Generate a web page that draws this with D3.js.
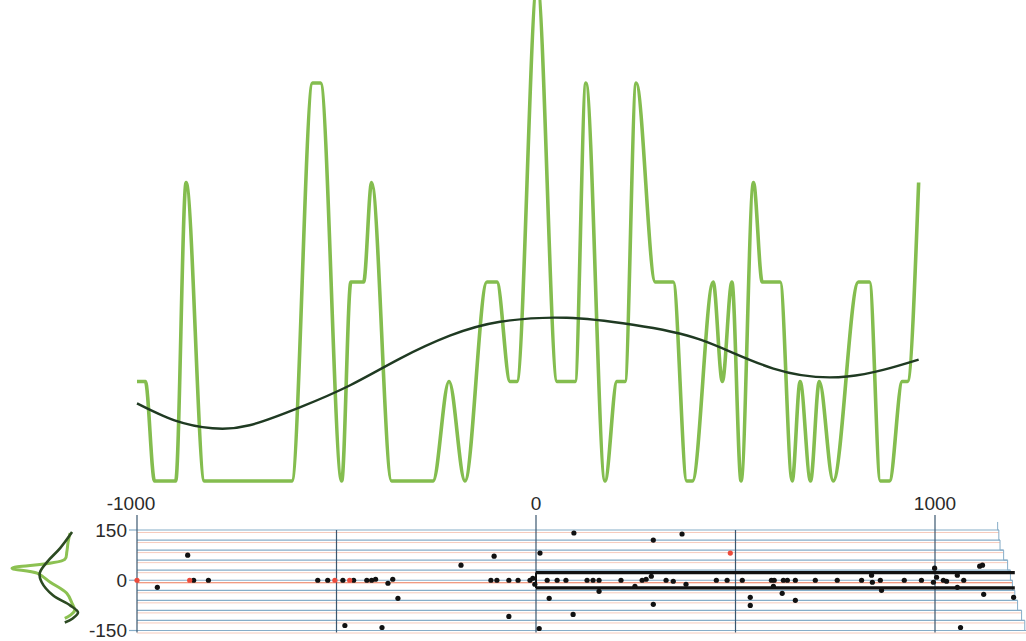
<!DOCTYPE html>
<html>
<head>
<meta charset="utf-8">
<script src="https://cdn.jsdelivr.net/npm/d3@7"></script>
<style>
  body { margin: 0; background: #fff; }
  svg { display: block; }
  text { font-family: "Liberation Sans", Arial, sans-serif; fill: #2a2a2a; }
</style>
</head>
<body>
<div id="chart"></div>
<script>
// ---- data ----
// top panel: green step/peak trace (x position, level)
const greenX = [-1000, -979, -956, -903, -877, -831, -612, -560, -540, -487, -464, -432, -412, -362,
  -258, -218, -178, -123, -98, -65, -48, 3, 53, 98, 125, 173, 203, 223, 251, 299, 344, 378, 392,
  444, 467, 491, 514, 545, 567, 612, 642, 662, 688, 710, 745, 808, 836, 863, 886, 918, 931, 959];
const greenY = [1, 1, 0, 0, 3, 0, 0, 4, 4, 0, 2, 2, 3, 0,
  0, 1, 0, 2, 2, 1, 1, 5, 1, 1, 4, 0, 1, 1, 4, 2, 2, 0, 0,
  2, 1, 2, 0, 3, 2, 2, 0, 1, 0, 1, 0, 2, 2, 0, 0, 1, 1, 3];

// top panel: smooth fitted curve
const fitX = [-1000, -906, -811, -718, -592, -467, -341, -216, -90, 77, 243, 412, 595, 780, 959];
const fitY = [0.78, 0.61, 0.53, 0.56, 0.74, 0.96, 1.23, 1.46, 1.60, 1.64, 1.57, 1.42, 1.13, 1.05, 1.22];

// bottom panel: black points
const dotX = [-949, -873, -858, -821, -547, -522, -484, -479, -457, -424, -412, -402, -371, -359, -346, -386,
  -188, -105, -113, -98, -68, -45, -15, -8, -3, -68, 10, 95, 33, 93, 8, 28, 53, 75, 128, 143, 158, 158,
  213, 248, 266, 276, 289, 294, 294, 326, 344, 366, 376, 452, 479, 517, 537, 537, 590, 597, 620, 630, 650,
  595, 617, 650, 700, 755, 816, 841, 843, 863, 866, 923, 966, 999, 996, 1004, 1021, 1029, 1056, 1056,
  1072, 1112, 1119, 1122, 1064, 1197];
const dotY = [-21, 75, 0, 0, 0, 0, 0, -135, 0, 0, 0, 3, -9, 3, -54, -141,
  45, 72, 0, 0, 0, 0, 0, 6, -12, -108, 81, 141, -54, -102, -144, 0, 0, 0, 0, 0, 0, -33,
  0, -18, 0, 3, 12, 120, -72, 0, -3, 138, -12, 0, 0, 0, -51, -75, 0, 0, 0, 0, 0,
  -18, -39, -60, 0, 0, 0, 15, -6, 0, -30, 0, 0, 36, -6, 9, 0, -3, 15, -21,
  0, 42, 45, -42, -141, -51];

// bottom panel: red points
const redX = [-1000, -868, -504, -467, 487];
const redY = [0, 0, 0, 0, 81];

// bottom panel: horizontal rules and where each one stops on the right
const gridY = [150, 120, 90, 60, 30, 0, -30, -60, -90, -120, -150];
const gridEnd = [1160, 1163, 1172, 1182, 1189, 1194, 1200, 1207, 1217, 1225, 1231];
const edgeTop = [1157, 174];

// vertical rules and tick labels
const vLines = [-1000, -500, 0, 500, 1000];
const xTicks = [-1000, 0, 1000];
const yTicks = [150, 0, -150];

// thick band
const bandY = [23, -23];
const bandEnd = 1200;

// side density curves (value, density)
const lightY = [141, 114, 84, 62, 36, 21, -6, -39, -69, -90, -105, -114];
const lightD = [0.12, 0.15, 0.17, 0.2, 1.0, 0.62, 0.42, 0.17, 0.09, 0.05, 0.12, 0.2];
const darkY = [144, 96, 54, 21, -6, -45, -75, -96, -114, -126];
const darkD = [0.09, 0.27, 0.47, 0.58, 0.55, 0.38, 0.12, 0.0, 0.08, 0.2];

// ---- drawing ----
const W = 1026, H = 641;
const svg = d3.select("#chart").append("svg")
    .attr("width", W)
    .attr("height", H);

const x = d3.scaleLinear().domain([-1000, 1000]).range([137, 935]);
const yTop = d3.scaleLinear().domain([0, 4]).range([481, 83]);
const yB = d3.scaleLinear().domain([-150, 150]).range([630.5, 530]);
const dens = d3.scaleLinear().domain([0, 1]).range([78, 12]);

// top panel
const greenLine = d3.line()
    .x(i => x(greenX[i]))
    .y(i => yTop(greenY[i]))
    .curve(d3.curveMonotoneX);
svg.append("path")
    .attr("d", greenLine(d3.range(greenX.length)))
    .attr("fill", "none")
    .attr("stroke", "#84bd4f")
    .attr("stroke-width", 3.6)
    .attr("stroke-linejoin", "round");

const fitLine = d3.line()
    .x(i => x(fitX[i]))
    .y(i => yTop(fitY[i]))
    .curve(d3.curveNatural);
svg.append("path")
    .attr("d", fitLine(d3.range(fitX.length)))
    .attr("fill", "none")
    .attr("stroke", "#1f3a22")
    .attr("stroke-width", 2.4);

// bottom panel: horizontal rules (blue with a pink shadow line)
const rules = svg.append("g");
rules.selectAll(".pink")
    .data(gridY)
    .enter().append("line")
    .attr("x1", x(-1000))
    .attr("x2", (d, i) => x(gridEnd[i]))
    .attr("y1", d => yB(d) + 2.5)
    .attr("y2", d => yB(d) + 2.5)
    .attr("stroke", d => d === 0 ? "#ee7a58" : "#f6cbbd")
    .attr("stroke-width", 1);
rules.selectAll(".blue")
    .data(gridY)
    .enter().append("line")
    .attr("x1", x(-1000))
    .attr("x2", (d, i) => x(gridEnd[i]))
    .attr("y1", d => yB(d))
    .attr("y2", d => yB(d))
    .attr("stroke", "#86adc8")
    .attr("stroke-width", 1.2);

// small ticks by the y labels
rules.selectAll(".ytick")
    .data(yTicks)
    .enter().append("line")
    .attr("x1", x(-1000) - 8)
    .attr("x2", x(-1000))
    .attr("y1", d => yB(d))
    .attr("y2", d => yB(d))
    .attr("stroke", "#86adc8")
    .attr("stroke-width", 1.2);

// ragged right edge
const edgePts = [edgeTop].concat(gridY.map((d, i) => [gridEnd[i], d]));
svg.append("path")
    .attr("d", d3.line().x(d => x(d[0])).y(d => yB(d[1])).curve(d3.curveStepBefore)(edgePts))
    .attr("fill", "none")
    .attr("stroke", "#86adc8")
    .attr("stroke-width", 1);

// vertical rules
svg.selectAll(".vline")
    .data(vLines)
    .enter().append("line")
    .attr("x1", d => x(d))
    .attr("x2", d => x(d))
    .attr("y1", d => xTicks.includes(d) ? 515 : yB(150))
    .attr("y2", yB(-150) + 2)
    .attr("stroke", "#3b5870")
    .attr("stroke-width", 1.2);

// thick band
svg.selectAll(".band")
    .data(bandY)
    .enter().append("line")
    .attr("x1", x(0))
    .attr("x2", x(bandEnd))
    .attr("y1", d => yB(d))
    .attr("y2", d => yB(d))
    .attr("stroke", "#111")
    .attr("stroke-width", 3.2);
svg.append("line")
    .attr("x1", x(0)).attr("x2", x(0))
    .attr("y1", yB(bandY[0])).attr("y2", yB(bandY[1]))
    .attr("stroke", "#111")
    .attr("stroke-width", 2);

// points
svg.selectAll(".dot")
    .data(d3.range(dotX.length))
    .enter().append("circle")
    .attr("cx", i => x(dotX[i]))
    .attr("cy", i => yB(dotY[i]))
    .attr("r", 2.6)
    .attr("fill", "#111");
svg.selectAll(".red")
    .data(d3.range(redX.length))
    .enter().append("circle")
    .attr("cx", i => x(redX[i]))
    .attr("cy", i => yB(redY[i]))
    .attr("r", 2.6)
    .attr("fill", "#ec4b3c");

// axis labels
svg.selectAll(".xlab")
    .data(xTicks)
    .enter().append("text")
    .attr("x", d => x(d) + (d < 0 ? -6 : 0))
    .attr("y", 510)
    .attr("text-anchor", "middle")
    .style("font-size", "19px")
    .text(d => d);
svg.selectAll(".ylab")
    .data(yTicks)
    .enter().append("text")
    .attr("x", 127)
    .attr("y", d => yB(d))
    .attr("dy", "0.35em")
    .attr("text-anchor", "end")
    .style("font-size", "19px")
    .text(d => d);

// side density curves
const densLine = d3.line().curve(d3.curveCatmullRom);
svg.append("path")
    .attr("d", densLine(lightY.map((v, i) => [dens(lightD[i]), yB(v)])))
    .attr("fill", "none")
    .attr("stroke", "#8cc152")
    .attr("stroke-width", 3);
svg.append("path")
    .attr("d", densLine(darkY.map((v, i) => [dens(darkD[i]), yB(v)])))
    .attr("fill", "none")
    .attr("stroke", "#2c4a22")
    .attr("stroke-width", 2.6);
</script>
</body>
</html>
